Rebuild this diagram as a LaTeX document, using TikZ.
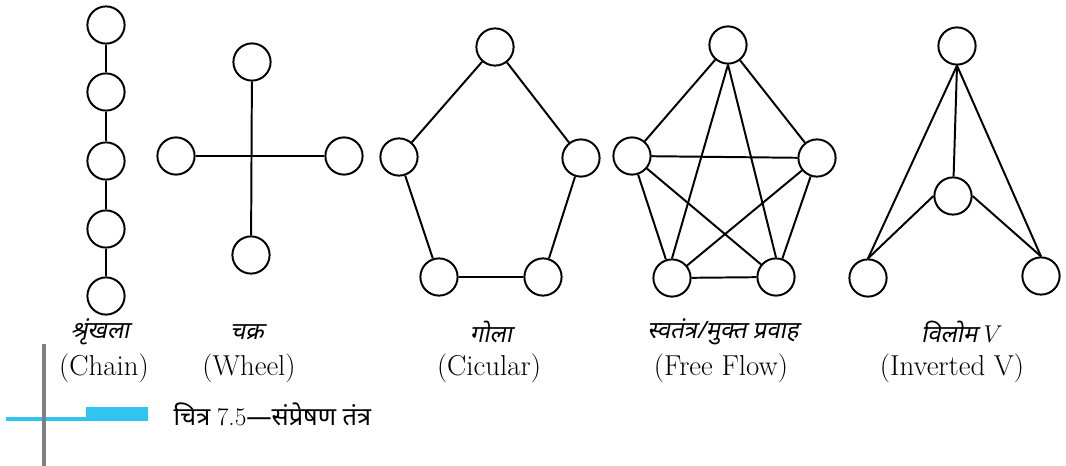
\documentclass[tikz,border=0pt]{standalone}
\usepackage{fontspec}
\usepackage{tikz}
\newfontfamily\hindi[Script=Devanagari,FakeSlant=0.2]{Noto Sans}
\newfontfamily\hindiup[Script=Devanagari]{Noto Sans}
\definecolor{barcyan}{RGB}{48,197,240}
\definecolor{rulegray}{RGB}{128,128,128}

\begin{document}
\begin{tikzpicture}[x=0.025cm,y=-0.025cm,line width=1.4pt,
    member/.style={circle,draw,line width=1.4pt,minimum size=0.93cm,inner sep=0pt},
    hilabel/.style={font=\hindi\fontsize{17}{20}\selectfont},
    enlabel/.style={font=\fontsize{20.5}{24}\selectfont}]
  \useasboundingbox (0,0) rectangle (1066,466);
  % chain
  \node[member] (c1) at (106,25) {};
  \node[member] (c2) at (106,92) {};
  \node[member] (c3) at (106,161) {};
  \node[member] (c4) at (106,229) {};
  \node[member] (c5) at (106,296) {};
  \foreach \i/\j in {1/2,2/3,3/4,4/5} \draw (c\i) -- (c\j);
  % wheel
  \node[member] (wt) at (252,62) {};
  \node[member] (wl) at (176,156) {};
  \node[member] (wr) at (344,156) {};
  \node[member] (wb) at (251,255) {};
  \draw (wt) -- (wb);
  \draw (wl) -- (wr);
  % circular
  \node[member] (gt) at (495,47) {};
  \node[member] (gl) at (399,157) {};
  \node[member] (gr) at (581,158) {};
  \node[member] (gbl) at (439,277) {};
  \node[member] (gbr) at (543,277) {};
  \draw (gt) -- (gr) -- (gbr) -- (gbl) -- (gl) -- (gt);
  % free flow
  \node[member] (ft) at (728,45) {};
  \node[member] (fl) at (632,156) {};
  \node[member] (fr) at (817,158) {};
  \node[member] (fbl) at (672,278) {};
  \node[member] (fbr) at (776,277) {};
  \draw (ft) -- (fl);
  \draw (ft) -- (fr);
  \draw (ft.south) -- (fbl.north);
  \draw (ft.south) -- (fbr.north);
  \draw (fl) -- (fr);
  \draw (fl) -- (fbl);
  \draw (fl) -- (fbr);
  \draw (fr) -- (fbl);
  \draw (fr) -- (fbr);
  \draw (fbl) -- (fbr);
  % inverted V
  \node[member] (vt) at (957,46) {};
  \node[member] (vm) at (953,196) {};
  \node[member] (vbl) at (868,278) {};
  \node[member] (vbr) at (1041,276) {};
  \draw (vt.south) -- (vm);
  \draw (vt.south) -- (vbl.north);
  \draw (vt.south) -- (vbr.north);
  \draw (vm.west) -- (vbl.north);
  \draw (vm.east) -- (vbr.north);
  % labels
  \node[hilabel] (chainhi) at (100,332) {श्रृंखला};
  \node[enlabel] (chainen) at (104,368) {(Chain)};
  \node[hilabel] (wheelhi) at (247,332) {चक्र};
  \node[enlabel] (wheelen) at (249,368) {(Wheel)};
  \node[hilabel] (circhi) at (491,332) {गोला};
  \node[enlabel] (circen) at (489,368) {(Cicular)};
  \node[hilabel] (freehi) at (723,332) {स्वतंत्र/मुक्त प्रवाह};
  \node[enlabel] (freeen) at (721,368) {(Free Flow)};
  \node[hilabel] (invhi) at (962,332) {विलोम\ $V$};
  \node[enlabel] (inven) at (952,368) {(Inverted V)};
  % caption bar
  \fill[barcyan] (6,417) rectangle (148,421);
  \fill[barcyan] (86,407) rectangle (148,421);
  \fill[rulegray] (42,344) rectangle (46,466);
  \node[font=\hindiup\fontsize{18}{21}\selectfont,anchor=west] (caption) at (168,414) {चित्र {\rmfamily 7.5}—संप्रेषण तंत्र};
\end{tikzpicture}
\end{document}
